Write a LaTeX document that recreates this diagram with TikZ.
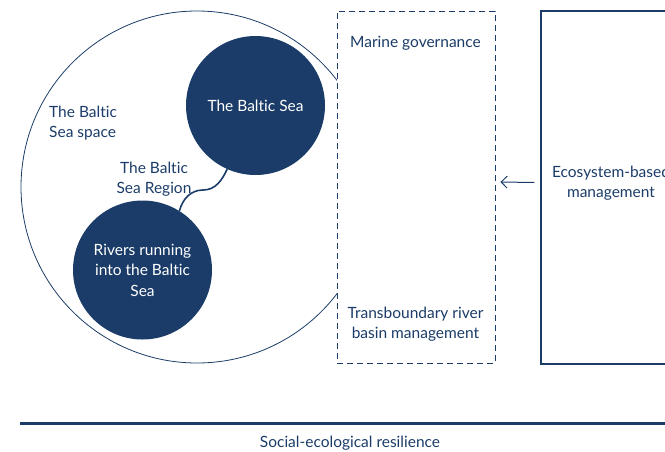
\documentclass[tikz,border=0pt]{standalone}
\usepackage{fontspec}
\setmainfont{Lato}[Ligatures={NoCommon}]
\usepackage{tikz}
\usetikzlibrary{arrows.meta}
\definecolor{balticnavy}{HTML}{1B3C68}
\colorlet{linecolor}{balticnavy}
\colorlet{textcolor}{balticnavy}
\tikzstyle{lbl} = [
    text=textcolor,
    align=center,
    inner sep=0pt,
    font=\fontsize{15.5}{20.5}\selectfont
    ]
\tikzstyle{seadisc} = [
    circle,
    fill=balticnavy,
    text=white,
    align=center,
    inner sep=0pt,
    minimum size=139pt,
    font=\fontsize{15.5}{20.5}\selectfont
    ]
\tikzstyle{dashbox} = [
    draw=linecolor,
    fill=white,
    line width=0.9pt,
    dash pattern=on 6pt off 4pt,
    rectangle,
    minimum width=158pt,
    minimum height=352pt
    ]
\tikzstyle{solidbox} = [
    draw=linecolor,
    line width=1.2pt,
    rectangle,
    minimum width=140pt,
    minimum height=353pt
    ]

\begin{document}
\begin{tikzpicture}[x=1pt,y=-1pt]
\useasboundingbox (0,0) rectangle (665,451);
% the Baltic Sea space
\node[circle, draw=linecolor, line width=0.8pt, inner sep=0pt, minimum size=352pt] (space) at (197,187) {};
\node[lbl, anchor=west, align=left] (spacetext) at (49,123) {The Baltic\\Sea space};
\node[seadisc] (sea) at (255.5,105.5) {The Baltic Sea};
\node[seadisc] (rivers) at (142.5,270) {Rivers running\\into the Baltic\\Sea};
\coordinate (bend) at (203,190);
\draw[linecolor, line width=1.6pt] (sea.246) to[out=245,in=0] (bend) to[out=180,in=75] (rivers.58);
\node[lbl] (region) at (154,179) {The Baltic\\Sea Region};
% governance
\node[dashbox] (gov) at (416,187) {};
\node[lbl] (marine) at (415.5,43) {Marine governance};
\node[lbl] (river) at (415.5,324) {Transboundary river\\basin management};
\node[solidbox] (ebm) at (611,187.5) {};
\node[lbl] (ebmtext) at (611,183) {Ecosystem-based\\management};
\draw[linecolor, line width=1pt, -{Straight Barb[length=6pt,width=12pt]}]
    ([shift={(-6pt,5pt)}]ebm.west) -- ([shift={(5pt,5pt)}]gov.east);
% resilience
\coordinate (basel) at (20,423);
\coordinate (baser) at (665,423);
\draw[linecolor, line width=3pt] (basel) -- (baser);
\node[lbl] (resilience) at (350,443) {Social-ecological resilience};
\end{tikzpicture}
\end{document}
